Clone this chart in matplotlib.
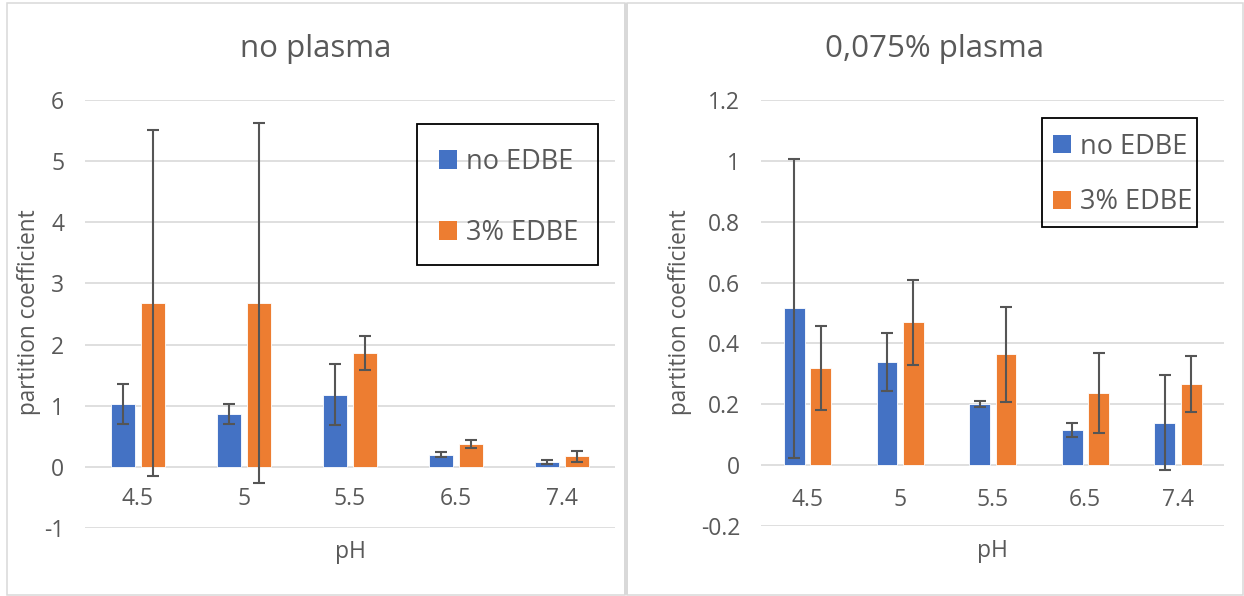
import matplotlib
matplotlib.use("Agg")
import matplotlib.pyplot as plt
from matplotlib.patches import Rectangle, Patch
import numpy as np

# ---- data -------------------------------------------------------------
ph_labels = ["4.5", "5", "5.5", "6.5", "7.4"]
series_names = ["no EDBE", "3% EDBE"]

# no plasma
no_plasma_no_edbe = [1.03, 0.86, 1.18, 0.20, 0.08]
no_plasma_no_edbe_err = [0.33, 0.165, 0.50, 0.045, 0.04]
no_plasma_edbe = [2.68, 2.685, 1.865, 0.37, 0.17]
no_plasma_edbe_err = [2.83, 2.945, 0.275, 0.065, 0.085]

# 0,075% plasma
plasma_no_edbe = [0.515, 0.34, 0.20, 0.115, 0.14]
plasma_no_edbe_err = [0.49, 0.095, 0.01, 0.024, 0.155]
plasma_edbe = [0.32, 0.47, 0.364, 0.237, 0.266]
plasma_edbe_err = [0.138, 0.14, 0.156, 0.133, 0.092]

left_yticks = [-1, 0, 1, 2, 3, 4, 5, 6]
left_yticklabels = ["-1", "0", "1", "2", "3", "4", "5", "6"]
right_yticks = [-0.2, 0, 0.2, 0.4, 0.6, 0.8, 1.0, 1.2]
right_yticklabels = ["-0.2", "0", "0.2", "0.4", "0.6", "0.8", "1", "1.2"]

titles = ["no plasma", "0,075% plasma"]
x_title = "pH"
y_title = "partition coefficient"

# ---- style ------------------------------------------------------------
BLUE = "#4472C4"
ORANGE = "#ED7D31"
GRID = "#D9D9D9"
TEXT = "#595959"
ERR = "#555555"
FRAME = "#D9D9D9"

plt.rcParams["font.family"] = ["Open Sans", "DejaVu Sans"]

W, H = 1244, 596
fig = plt.figure(figsize=(W / 100, H / 100), dpi=100)
fig.patch.set_facecolor("white")


def fx(px):
    return px / W


def fy(py):
    return 1 - py / H


def draw_panel(ax, a, a_err, b, b_err, yticks, yticklabels, ylim, xpad):
    x = np.arange(len(ph_labels))
    ekw = dict(ecolor=ERR, elinewidth=1.5, capsize=4.5, capthick=1.5, zorder=4)
    ax.bar(x - 0.14, a, 0.225, color=BLUE, edgecolor="white", linewidth=0.6,
           yerr=a_err, error_kw=ekw, zorder=3)
    ax.bar(x + 0.145, b, 0.225, color=ORANGE, edgecolor="white", linewidth=0.6,
           yerr=b_err, error_kw=ekw, zorder=3)
    ax.set_xlim(-0.5, len(ph_labels) - 0.5)
    ax.set_ylim(*ylim)
    ax.set_yticks(yticks)
    ax.set_yticklabels(yticklabels)
    ax.set_xticks(x)
    ax.set_xticklabels(ph_labels)
    ax.grid(axis="y", color=GRID, linewidth=1.2)
    ax.set_axisbelow(True)
    for s in ax.spines.values():
        s.set_visible(False)
    ax.spines["bottom"].set_position(("data", 0))
    ax.tick_params(axis="y", length=0, pad=15, labelsize=16.5, labelcolor=TEXT)
    ax.tick_params(axis="x", length=0, pad=xpad, labelsize=16.5, labelcolor=TEXT)
    ax.set_facecolor("none")


ax1 = fig.add_axes([fx(85), fy(528), (615 - 85) / W, (528 - 100) / H])
ax2 = fig.add_axes([fx(761), fy(526), (1224 - 761) / W, (526 - 100) / H])

draw_panel(ax1, no_plasma_no_edbe, no_plasma_no_edbe_err,
           no_plasma_edbe, no_plasma_edbe_err,
           left_yticks, left_yticklabels, (-1, 6), 14.5)
draw_panel(ax2, plasma_no_edbe, plasma_no_edbe_err,
           plasma_edbe, plasma_edbe_err,
           right_yticks, right_yticklabels, (-0.2, 1.2), 16.5)

# chart-area frames
fig.add_artist(Rectangle((fx(7), fy(595)), (625 - 7) / W, (595 - 2.5) / H,
                         transform=fig.transFigure, fill=False,
                         edgecolor=FRAME, linewidth=1.1))
fig.add_artist(Rectangle((fx(627), fy(595)), (1242.5 - 627) / W, (595 - 2.5) / H,
                         transform=fig.transFigure, fill=False,
                         edgecolor=FRAME, linewidth=1.1))
fig.add_artist(Rectangle((fx(624), fy(595)), 4 / W, (595 - 2.5) / H,
                         transform=fig.transFigure, facecolor=FRAME,
                         edgecolor="none"))

# titles and axis titles
for cx, t in zip([315.5, 934.5], titles):
    fig.text(fx(cx), fy(57), t, ha="center", va="baseline",
             fontsize=22.5, color=TEXT)
for cx, by in zip([350, 992.5], [558, 557]):
    fig.text(fx(cx), fy(by), x_title, ha="center", va="baseline",
             fontsize=16.5, color=TEXT)
for cx in [29, 680]:
    fig.text(fx(cx), fy(312), y_title, ha="center", va="center",
             rotation=90, fontsize=16.3, color=TEXT)

# legends with boxed frames
handles = [Patch(facecolor=BLUE, edgecolor="none"),
           Patch(facecolor=ORANGE, edgecolor="none")]
for ax, hx, cy, spacing, box in [
    (ax1, 439, 197.5, 1.6, (416.7, 124, 597.7, 265)),
    (ax2, 1053, 174.5, 1.03, (1042, 117.7, 1197, 227)),
]:
    ax.legend(handles, series_names, frameon=False, loc="center left",
              bbox_to_anchor=(fx(hx), fy(cy)), bbox_transform=fig.transFigure,
              borderpad=0, borderaxespad=0, handlelength=0.68,
              handleheight=0.68, handletextpad=0.3, labelspacing=spacing,
              fontsize=19.5, labelcolor=TEXT)
    x0, y0, x1, y1 = box
    fig.add_artist(Rectangle((fx(x0), fy(y1)), (x1 - x0) / W, (y1 - y0) / H,
                             transform=fig.transFigure, fill=False,
                             edgecolor="black", linewidth=1.3, zorder=5))

fig.savefig("out.png", dpi=100, facecolor="white")
